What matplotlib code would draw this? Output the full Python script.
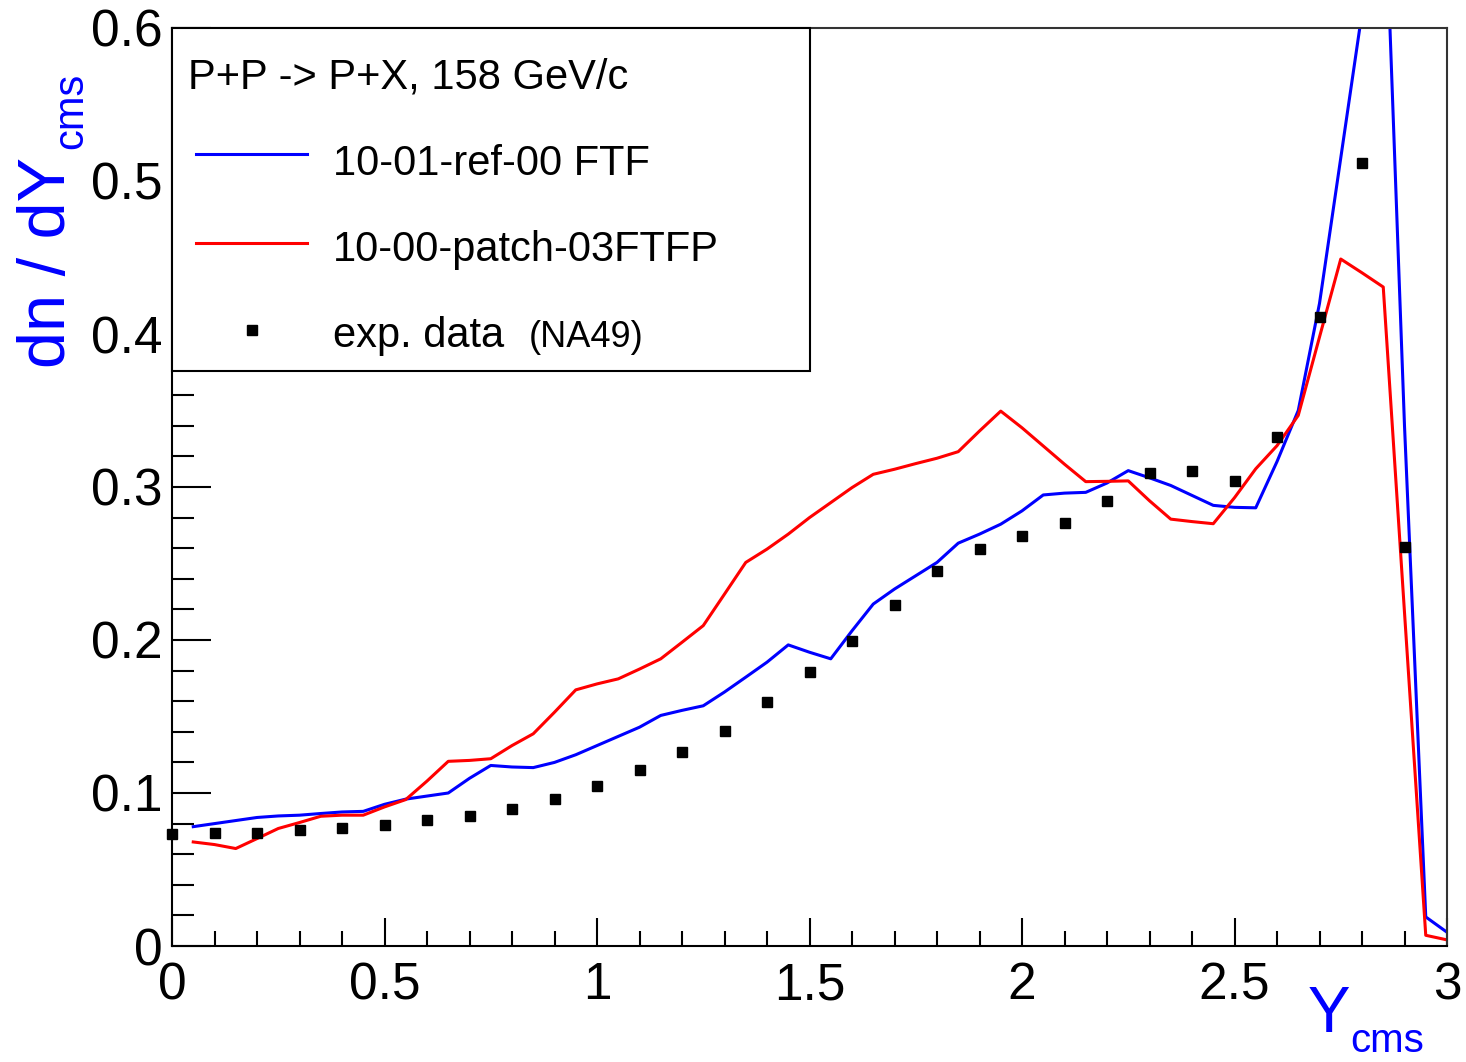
import matplotlib
matplotlib.use('Agg')
import matplotlib.pyplot as plt
from matplotlib.lines import Line2D
from matplotlib.patches import Rectangle
from matplotlib.ticker import MultipleLocator, FuncFormatter
import numpy as np

plt.rcParams['font.family'] = ['Liberation Sans', 'DejaVu Sans']

# NA49 data points
y_exp = np.round(np.arange(0, 30) * 0.1, 2)
dn_exp = [0.073, 0.074, 0.074, 0.0757, 0.0768, 0.0794, 0.0822, 0.0848, 0.0898, 0.0963,
          0.1044, 0.1148, 0.1266, 0.1405, 0.1594, 0.179, 0.1996, 0.2231, 0.2453, 0.2594,
          0.2677, 0.2765, 0.291, 0.309, 0.3105, 0.304, 0.3327, 0.411, 0.512, 0.261]

# model curves
y_mod = np.round(np.arange(1, 61) * 0.05, 2)
dn_ftf = [0.078, 0.080, 0.082, 0.084, 0.085, 0.0855, 0.0866, 0.0876, 0.088, 0.0926,
          0.096, 0.098, 0.100, 0.1096, 0.118, 0.117, 0.1166, 0.120, 0.125, 0.131,
          0.137, 0.143, 0.1507, 0.154, 0.157, 0.166, 0.1757, 0.1855, 0.1968, 0.192,
          0.1877, 0.206, 0.2235, 0.2333, 0.242, 0.2507, 0.2633, 0.2692, 0.2757, 0.2844,
          0.2948, 0.296, 0.2965, 0.3026, 0.3107, 0.306, 0.301, 0.2945, 0.288, 0.2867,
          0.2864, 0.3166, 0.350, 0.42, 0.515, 0.61, 0.72, 0.34, 0.019, 0.009]
dn_ftfp = [0.068, 0.0663, 0.0637, 0.0702, 0.0768, 0.0807, 0.0848, 0.0855, 0.0855, 0.0909,
           0.0957, 0.1078, 0.1207, 0.1213, 0.1224, 0.131, 0.1387, 0.1528, 0.1674, 0.1713,
           0.1746, 0.181, 0.1877, 0.1985, 0.2094, 0.230, 0.2507, 0.2594, 0.2692, 0.280,
           0.2898, 0.2996, 0.3083, 0.3116, 0.3153, 0.3188, 0.3231, 0.3366, 0.3496, 0.3387,
           0.3268, 0.3149, 0.3035, 0.3037, 0.304, 0.291, 0.279, 0.2774, 0.276, 0.293,
           0.3119, 0.327, 0.3468, 0.398, 0.449, 0.44, 0.4307, 0.218, 0.007, 0.004]

label_ftf = '10-01-ref-00 FTF'
label_ftfp = '10-00-patch-03FTFP'
title = 'P+P -> P+X, 158 GeV/c'

W, H = 1466, 1062
fig = plt.figure(figsize=(W / 100, H / 100), dpi=100)


def fx(p):
    return p / W


def fy(p):
    return 1 - p / H


ax = fig.add_axes([fx(172), fy(946), fx(1447) - fx(172), fy(28) - fy(946)])

ax.plot(y_mod, dn_ftf, color='#0000ff', lw=2.2)
ax.plot(y_mod, dn_ftfp, color='#ff0000', lw=2.2)
ax.plot(y_exp, dn_exp, 's', color='black', ms=7.5, clip_on=False, zorder=5)

ax.set_xlim(0, 3)
ax.set_ylim(0, 0.6)

ax.xaxis.set_major_locator(MultipleLocator(0.5))
ax.xaxis.set_minor_locator(MultipleLocator(0.1))
ax.yaxis.set_major_locator(MultipleLocator(0.1))
ax.yaxis.set_minor_locator(MultipleLocator(0.02))
fmt = FuncFormatter(lambda v, p: '%g' % round(v, 3))
ax.xaxis.set_major_formatter(fmt)
ax.yaxis.set_major_formatter(fmt)

ax.tick_params(axis='both', which='both', direction='in', width=1.5, labelsize=37,
               top=False, right=False)
ax.tick_params(axis='y', which='major', length=28, pad=7)
ax.tick_params(axis='y', which='minor', length=16)
ax.tick_params(axis='x', which='major', length=20, pad=11)
ax.tick_params(axis='x', which='minor', length=11)
for s in ax.spines.values():
    s.set_linewidth(1.5)
    s.set_color('black')
ax.spines['top'].set_color('#333333')
ax.spines['right'].set_color('#333333')

# axis titles (main text + subscript drawn separately, ROOT style)
blue = '#0000ff'
fig.text(fx(1350), fy(1032), 'Y', color=blue, fontsize=46, ha='right', va='baseline')
fig.text(fx(1350), fy(1052), 'cms', color=blue, fontsize=29, ha='left', va='baseline')
fig.text(fx(65), fy(368), 'dn / dY', color=blue, fontsize=48, rotation=90,
         rotation_mode='anchor', ha='left', va='baseline')
fig.text(fx(82), fy(149), 'cms', color=blue, fontsize=30, rotation=90,
         rotation_mode='anchor', ha='left', va='baseline')

# legend box
fig.patches.append(Rectangle((fx(172), fy(371)), fx(810) - fx(172), fy(28) - fy(371),
                             transform=fig.transFigure, fill=True, facecolor='white',
                             edgecolor='black', lw=1.5, zorder=10))
fig.text(fx(188), fy(88), title, fontsize=30, va='baseline', zorder=11)
fig.lines.append(Line2D([fx(196), fx(307)], [fy(154), fy(154)], color='#0000ff', lw=2.2,
                        transform=fig.transFigure, zorder=11))
fig.text(fx(333), fy(175), label_ftf, fontsize=30, va='baseline', zorder=11)
fig.lines.append(Line2D([fx(196), fx(307)], [fy(243), fy(243)], color='#ff0000', lw=2.2,
                        transform=fig.transFigure, zorder=11))
fig.text(fx(333), fy(261), label_ftfp, fontsize=30, va='baseline', zorder=11)
fig.lines.append(Line2D([fx(252)], [fy(330)], marker='s', ms=6.5, color='black', ls='none',
                        transform=fig.transFigure, zorder=11))
fig.text(fx(333), fy(347), 'exp. data', fontsize=30, va='baseline', zorder=11)
fig.text(fx(529), fy(347), '(NA49)', fontsize=26, va='baseline', zorder=11)

fig.savefig('out.png', dpi=100)
